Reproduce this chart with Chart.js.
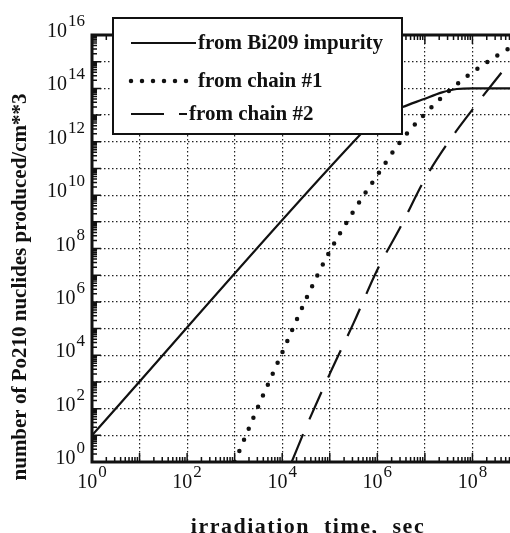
<!DOCTYPE html>
<html>
<head>
<meta charset="utf-8">
<script src="https://cdn.jsdelivr.net/npm/chart.js@4"></script>
<style>
  html, body { margin: 0; padding: 0; background: #fff; overflow: hidden; }
  #wrap { width: 540px; height: 533px; }
</style>
</head>
<body>
<div id="wrap"><canvas id="chart" width="540" height="533"></canvas></div>
<script>
// values (log-log)
const bi209Time  = [1, 3.16e5, 6.3e5, 1.26e6, 3.4e6, 8.9e6, 2.3e7, 4.7e7, 1e8, 1e9];
const bi209Count = [10, 1e12, 3.5e12, 8.9e12, 2e13, 3.8e13, 7.1e13, 9.5e13, 1e14, 1e14];

const chain1Time  = [1e3, 3.16e3, 1e4, 3.16e4, 1e5, 3.16e5, 1e6, 3.16e6, 1e7, 3.16e7, 1e8, 3.16e8, 1e9];
const chain1Count = [1, 1.26e2, 1.26e4, 1.26e6, 7.9e7, 2.5e9, 5.6e10, 1.1e12, 1.1e13, 7.9e13, 4e14, 1.6e15, 5.6e15];

const chain2Time  = [1.58e4, 3.16e4, 1e5, 3.16e5, 1e6, 3.16e6, 1e7, 3.16e7, 1e8, 3.16e8, 1e9];
const chain2Count = [1, 20, 2e3, 1.6e5, 1.6e7, 7.1e8, 4e10, 1e12, 1.6e13, 2.2e14, 2.8e15];

const seriesLabels = ["from Bi209 impurity", "from chain #1", "from chain #2"];
const xDecades = [1, 10, 1e2, 1e3, 1e4, 1e5, 1e6, 1e7, 1e8, 1e9];
const yDecades = [1, 10, 1e2, 1e3, 1e4, 1e5, 1e6, 1e7, 1e8, 1e9, 1e10, 1e11, 1e12, 1e13, 1e14, 1e15, 1e16];
const xLabelExp = [0, 2, 4, 6, 8];
const yLabelExp = [0, 2, 4, 6, 8, 10, 12, 14, 16];
const xTitle = "irradiation  time,  sec";
const yTitle = "number of Po210 nuclides produced/cm**3";

const SERIF = '"Liberation Serif", "DejaVu Serif", serif';
const INK = "#111";

function pts(xs, ys) {
  return xs.map((x, i) => ({ x, y: ys[i] }));
}

function drawPow(ctx, exp, x, y, align) {
  ctx.font = `20px ${SERIF}`;
  const wb = ctx.measureText("10").width;
  ctx.font = `17px ${SERIF}`;
  const we = ctx.measureText(String(exp)).width;
  const total = wb + 1 + we;
  const left = align === "center" ? x - total / 2 : x - total;
  ctx.textAlign = "left";
  ctx.textBaseline = "alphabetic";
  ctx.font = `20px ${SERIF}`;
  ctx.fillText("10", left, y);
  ctx.font = `17px ${SERIF}`;
  ctx.fillText(String(exp), left + wb + 1, y - 11);
}

const decor = {
  id: "decor",
  afterDraw(chart) {
    const { ctx, chartArea: a, scales } = chart;
    const sx = scales.x, sy = scales.y;
    ctx.save();
    ctx.fillStyle = INK;
    ctx.strokeStyle = INK;

    // minor / major ticks, inside the frame
    ctx.lineWidth = 1.5;
    ctx.beginPath();
    for (let d = 1; d < 1e9; d *= 10) {
      for (let m = 1; m < 10; m++) {
        const px = sx.getPixelForValue(d * m);
        const len = m === 1 ? 9 : 5;
        ctx.moveTo(px, a.bottom); ctx.lineTo(px, a.bottom - len);
        ctx.moveTo(px, a.top); ctx.lineTo(px, a.top + len);
      }
    }
    for (let d = 1; d < 1e16; d *= 10) {
      for (let m = 1; m < 10; m++) {
        const py = sy.getPixelForValue(d * m);
        const len = m === 1 ? 9 : 5;
        ctx.moveTo(a.left, py); ctx.lineTo(a.left + len, py);
        ctx.moveTo(a.right, py); ctx.lineTo(a.right - len, py);
      }
    }
    ctx.stroke();

    ctx.lineWidth = 3;
    ctx.strokeRect(a.left, a.top, a.right - a.left, a.bottom - a.top);

    // tick labels
    for (const e of xLabelExp) {
      drawPow(ctx, e, sx.getPixelForValue(Math.pow(10, e)), a.bottom + 26, "center");
    }
    for (const e of yLabelExp) {
      drawPow(ctx, e, a.left - 7, sy.getPixelForValue(Math.pow(10, e)) + 2, "right");
    }

    // axis titles
    ctx.font = `bold 21px ${SERIF}`;
    ctx.textAlign = "center";
    ctx.textBaseline = "middle";
    ctx.save();
    ctx.translate(21, 287);
    ctx.rotate(-Math.PI / 2);
    ctx.fillText(yTitle, 0, 0);
    ctx.restore();
    ctx.font = `bold 22px ${SERIF}`;
    ctx.textBaseline = "alphabetic";
    ctx.letterSpacing = "1.5px";
    ctx.fillText(xTitle, 308, 533);
    ctx.letterSpacing = "0px";

    // legend box
    const box = { l: 113, t: 18, r: 402, b: 134 };
    ctx.fillStyle = "#fff";
    ctx.fillRect(box.l, box.t, box.r - box.l, box.b - box.t);
    ctx.lineWidth = 2;
    ctx.strokeStyle = INK;
    ctx.strokeRect(box.l, box.t, box.r - box.l, box.b - box.t);

    const rows = [43, 81, 114];
    const textX = [198, 198, 189];
    const sampleDash = [[], [0, 11], [33, 15, 9, 200]];
    chart.data.datasets.forEach((ds, i) => {
      ctx.save();
      ctx.strokeStyle = ds.borderColor;
      ctx.lineWidth = ds.borderWidth;
      ctx.lineCap = ds.borderCapStyle || "butt";
      ctx.setLineDash(sampleDash[i]);
      ctx.beginPath();
      ctx.moveTo(131, rows[i]);
      ctx.lineTo(i === 2 ? 187 : 196, rows[i]);
      ctx.stroke();
      ctx.restore();
      ctx.fillStyle = INK;
      ctx.font = `bold 21px ${SERIF}`;
      ctx.textAlign = "left";
      ctx.textBaseline = "middle";
      ctx.fillText(ds.label, textX[i], rows[i] + 1);
    });
    ctx.restore();
  }
};

const gridOpts = { color: "#222", lineWidth: 1.2, drawTicks: false };

new Chart(document.getElementById("chart"), {
  type: "line",
  data: {
    datasets: [
      {
        label: seriesLabels[0],
        data: pts(bi209Time, bi209Count),
        borderColor: INK, borderWidth: 2.2,
        pointRadius: 0, cubicInterpolationMode: "monotone", clip: 0,
      },
      {
        label: seriesLabels[1],
        data: pts(chain1Time, chain1Count),
        borderColor: INK, borderWidth: 4.5, borderDash: [0, 12], borderCapStyle: "round",
        pointRadius: 0, cubicInterpolationMode: "monotone", clip: 0,
      },
      {
        label: seriesLabels[2],
        data: pts(chain2Time, chain2Count),
        borderColor: INK, borderWidth: 2.2, borderDash: [30, 16],
        pointRadius: 0, cubicInterpolationMode: "monotone", clip: 0,
      },
    ],
  },
  options: {
    responsive: false,
    devicePixelRatio: 1,
    animation: false,
    layout: { padding: { left: 92, right: 20, top: 35, bottom: 71 } },
    plugins: { legend: { display: false }, tooltip: { enabled: false } },
    scales: {
      x: {
        type: "logarithmic", min: 1, max: 1e9,
        afterBuildTicks: (s) => { s.ticks = xDecades.map((v) => ({ value: v })); },
        ticks: { display: false },
        grid: gridOpts,
        border: { display: false, dash: [1.5, 2.5] },
      },
      y: {
        type: "logarithmic", min: 1, max: 1e16,
        afterBuildTicks: (s) => { s.ticks = yDecades.map((v) => ({ value: v })); },
        ticks: { display: false },
        grid: gridOpts,
        border: { display: false, dash: [1.5, 2.5] },
      },
    },
  },
  plugins: [decor],
});
</script>
</body>
</html>
